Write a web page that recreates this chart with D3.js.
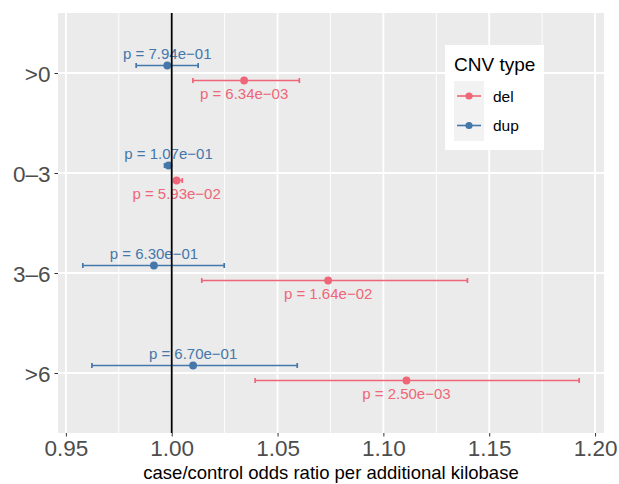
<!DOCTYPE html>
<html>
<head>
<meta charset="utf-8">
<script src="https://cdn.jsdelivr.net/npm/d3@7"></script>
<style>
  body { margin: 0; background: #fff; }
  text { font-family: "Liberation Sans", Arial, Helvetica, sans-serif; }
</style>
</head>
<body>
<svg id="chart" width="619" height="484"></svg>
<script>
// size classes on the y axis
var categories = [">0", "0\u20133", "3\u20136", ">6"];

// dup series
var dupOR = [0.9979, 0.9985, 0.9916, 1.0101];
var dupLo = [0.9832, 0.9966, 0.9580, 0.9623];
var dupHi = [1.0125, 0.9992, 1.0248, 1.0593];
var dupP  = ["7.94e\u221201", "1.07e\u221201", "6.30e\u221201", "6.70e\u221201"];

// del series
var delOR = [1.0342, 1.0023, 1.0739, 1.1109];
var delLo = [1.0100, 1.0009, 1.0142, 1.0394];
var delHi = [1.0603, 1.0050, 1.1397, 1.1925];
var delP  = ["6.34e\u221203", "5.93e\u221202", "1.64e\u221202", "2.50e\u221203"];

var xTicks = [0.95, 1.00, 1.05, 1.10, 1.15, 1.20];
var xMinor = [0.975, 1.025, 1.075, 1.125, 1.175];

var colors = { del: "#EE6677", dup: "#4477AA" };

var rows = [];
categories.forEach(function(c, i) {
  rows.push({ type: "dup", cat: c, or: dupOR[i], lo: dupLo[i], hi: dupHi[i], p: dupP[i] });
  rows.push({ type: "del", cat: c, or: delOR[i], lo: delLo[i], hi: delHi[i], p: delP[i] });
});

var svg = d3.select("#chart");
var panel = { left: 58, right: 604, top: 13, bottom: 433 };

// ggplot style 5% expansion
var lo = d3.min(rows, function(d) { return d.lo }),
    hi = d3.max(rows, function(d) { return d.hi }),
    pad = (hi - lo) * 0.05;
var x = d3.scaleLinear().domain([lo - pad, hi + pad]).range([panel.left, panel.right]);
var y = d3.scalePoint().domain(categories).range([panel.top, panel.bottom]).padding(0.6);
var dodge = { dup: -7.5, del: 7.5 };

svg.append("rect")
  .attr("x", panel.left).attr("y", panel.top)
  .attr("width", panel.right - panel.left).attr("height", panel.bottom - panel.top)
  .attr("fill", "#EBEBEB");

svg.selectAll(".minor").data(xMinor).enter().append("line")
  .attr("x1", x).attr("x2", x)
  .attr("y1", panel.top).attr("y2", panel.bottom)
  .attr("stroke", "#fff").attr("stroke-width", 0.9);

svg.selectAll(".vmajor").data(xTicks).enter().append("line")
  .attr("x1", x).attr("x2", x)
  .attr("y1", panel.top).attr("y2", panel.bottom)
  .attr("stroke", "#fff").attr("stroke-width", 1.8);

svg.selectAll(".hmajor").data(categories).enter().append("line")
  .attr("x1", panel.left).attr("x2", panel.right)
  .attr("y1", y).attr("y2", y)
  .attr("stroke", "#fff").attr("stroke-width", 1.8);

// axes
var xAxis = svg.append("g")
  .attr("transform", "translate(0," + panel.bottom + ")")
  .call(d3.axisBottom(x).tickValues(xTicks).tickFormat(d3.format(".2f")).tickSize(3.5).tickPadding(4));
var yAxis = svg.append("g")
  .attr("transform", "translate(" + panel.left + ",0)")
  .call(d3.axisLeft(y).tickSize(3.5).tickPadding(4));
[xAxis, yAxis].forEach(function(a) {
  a.select(".domain").remove();
  a.selectAll(".tick line").attr("stroke", "#333").attr("stroke-width", 1);
  a.selectAll(".tick text").attr("fill", "#4D4D4D").style("font-size", "22.5px")
    .style("font-family", "'Liberation Sans', Arial, sans-serif");
});
yAxis.selectAll(".tick text").attr("dy", "0.36em");

svg.append("text")
  .attr("x", (panel.left + panel.right) / 2).attr("y", 479)
  .attr("text-anchor", "middle").style("font-size", "18.5px").attr("fill", "#000")
  .text("case/control odds ratio per additional kilobase");

// error bars
var g = svg.selectAll(".est").data(rows).enter().append("g")
  .attr("transform", function(d) { return "translate(0," + (y(d.cat) + dodge[d.type]) + ")" });

g.append("line")
  .attr("x1", function(d) { return x(d.lo) }).attr("x2", function(d) { return x(d.hi) })
  .attr("stroke", function(d) { return colors[d.type] }).attr("stroke-width", 1.7);
g.append("line")
  .attr("x1", function(d) { return x(d.lo) }).attr("x2", function(d) { return x(d.lo) })
  .attr("y1", -2.5).attr("y2", 2.5)
  .attr("stroke", function(d) { return colors[d.type] }).attr("stroke-width", 1.7);
g.append("line")
  .attr("x1", function(d) { return x(d.hi) }).attr("x2", function(d) { return x(d.hi) })
  .attr("y1", -2.5).attr("y2", 2.5)
  .attr("stroke", function(d) { return colors[d.type] }).attr("stroke-width", 1.7);
g.append("circle")
  .attr("cx", function(d) { return x(d.or) }).attr("r", 3.9)
  .attr("fill", function(d) { return colors[d.type] });
g.append("text")
  .attr("x", function(d) { return x(d.or) })
  .attr("y", function(d) { return d.type == "dup" ? -12 : 13 })
  .attr("dy", "0.36em")
  .attr("text-anchor", "middle").style("font-size", "15px")
  .attr("fill", function(d) { return colors[d.type] })
  .text(function(d) { return "p = " + d.p });

// reference line at OR = 1
svg.append("line")
  .attr("x1", x(1)).attr("x2", x(1))
  .attr("y1", panel.top).attr("y2", panel.bottom)
  .attr("stroke", "#000").attr("stroke-width", 1.8);

// legend
var leg = svg.append("g").attr("transform", "translate(445,45)");
leg.append("rect").attr("width", 99).attr("height", 105).attr("fill", "#fff");
leg.append("text").attr("x", 9).attr("y", 26).style("font-size", "19px").attr("fill", "#000").text("CNV type");
leg.append("rect").attr("x", 9).attr("y", 36).attr("width", 30).attr("height", 60).attr("fill", "#F2F2F2");
var keys = leg.selectAll(".key").data(["del", "dup"]).enter().append("g")
  .attr("transform", function(d, i) { return "translate(0," + (51 + i * 29.5) + ")" });
keys.append("line").attr("x1", 12).attr("x2", 36)
  .attr("stroke", function(d) { return colors[d] }).attr("stroke-width", 1.6);
keys.append("circle").attr("cx", 24).attr("r", 3.6).attr("fill", function(d) { return colors[d] });
keys.append("text").attr("x", 48).attr("dy", "0.36em").style("font-size", "15.5px").attr("fill", "#000")
  .text(function(d) { return d });
</script>
</body>
</html>
